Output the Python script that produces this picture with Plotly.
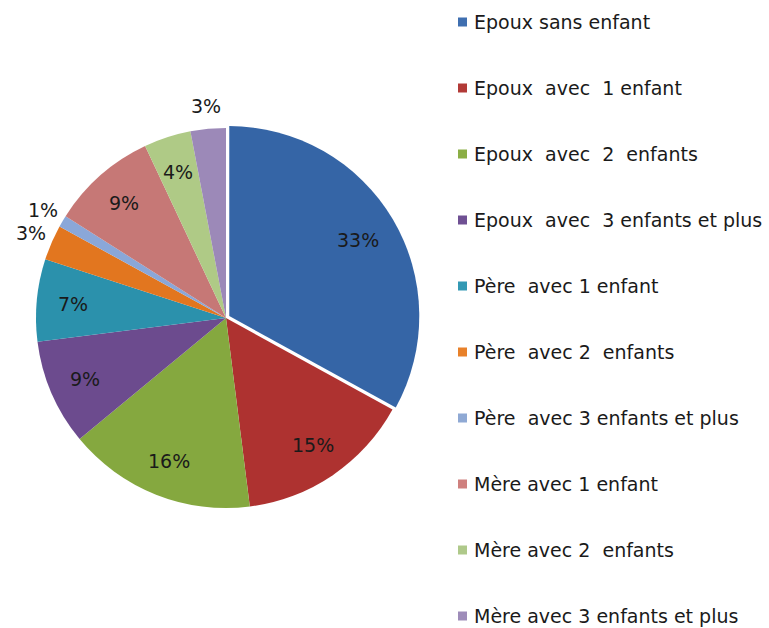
import math
import plotly.graph_objects as go

categories = [
    "Epoux sans enfant",
    "Epoux  avec  1 enfant",
    "Epoux  avec  2  enfants",
    "Epoux  avec  3 enfants et plus",
    "Père  avec 1 enfant",
    "Père  avec 2  enfants",
    "Père  avec 3 enfants et plus",
    "Mère avec 1 enfant",
    "Mère avec 2  enfants",
    "Mère avec 3 enfants et plus",
]
values = [33, 15, 16, 9, 7, 3, 1, 9, 4, 3]
label_text = ["33%", "15%", "16%", "9%", "7%", "3%", "1%", "9%", "4%", "3%"]
outside = [False, False, False, False, False, True, True, False, False, True]
colors = ["#3565A6", "#AE3230", "#85A83F", "#6C4B8E", "#2B91AC",
          "#E2761F", "#8AA7D8", "#C67876", "#AFCA86", "#9C89B8"]
legend_colors = ["#3F6FB0", "#B23A37", "#8BAE45", "#6F5093", "#3399B4",
                 "#E8812A", "#8FA9D4", "#CF807E", "#AFC98A", "#9E8CB9"]
pulls = [0.02, 0, 0, 0, 0, 0, 0, 0, 0, 0]

W, H = 769, 628
CX, CY, R = 226, 318, 190  # pie center / radius in pixels
S = 2 * R * (1 + max(pulls))

fig = go.Figure()
fig.add_trace(go.Pie(
    labels=categories,
    values=values,
    sort=False,
    direction="clockwise",
    rotation=0,
    pull=pulls,
    marker=dict(colors=colors, line=dict(width=0)),
    textinfo="none",
    hoverinfo="label+percent",
    showlegend=False,
    domain=dict(x=[(CX - S / 2) / W, (CX + S / 2) / W],
                y=[(H - CY - S / 2) / H, (H - CY + S / 2) / H]),
))

annotations = []
total = sum(values)
cum = 0
for v, t, out in zip(values, label_text, outside):
    mid = (cum + v / 2) / total * 2 * math.pi
    cum += v
    d = R * (1.12 if out else 0.81)
    px = CX + d * math.sin(mid)
    py = CY - d * math.cos(mid)
    annotations.append(dict(
        x=px / W, y=1 - py / H, xref="paper", yref="paper",
        text=t, showarrow=False, xanchor="center", yanchor="middle",
        font=dict(family="DejaVu Sans", size=19, color="#1a1a1a"),
    ))

shapes = []
row0, step = 22, 66
for i, (name, col) in enumerate(zip(categories, legend_colors)):
    yc = row0 + step * i
    shapes.append(dict(
        type="rect", xref="paper", yref="paper",
        x0=458 / W, x1=467 / W, y0=1 - (yc + 4.5) / H, y1=1 - (yc - 4.5) / H,
        fillcolor=col, line=dict(width=0),
    ))
    annotations.append(dict(
        x=472 / W, y=1 - yc / H, xref="paper", yref="paper",
        text=name.replace("  ", "\u00a0 "), showarrow=False,
        xanchor="left", yanchor="middle",
        font=dict(family="DejaVu Sans", size=19, color="#1a1a1a"),
    ))

fig.update_layout(
    width=W, height=H,
    margin=dict(l=0, r=0, t=0, b=0),
    paper_bgcolor="white",
    plot_bgcolor="white",
    annotations=annotations,
    shapes=shapes,
)

fig.write_html(
    "out.html",
    config={"displayModeBar": False},
    post_script="document.body.style.margin='0';document.body.style.overflow='hidden';",
)
